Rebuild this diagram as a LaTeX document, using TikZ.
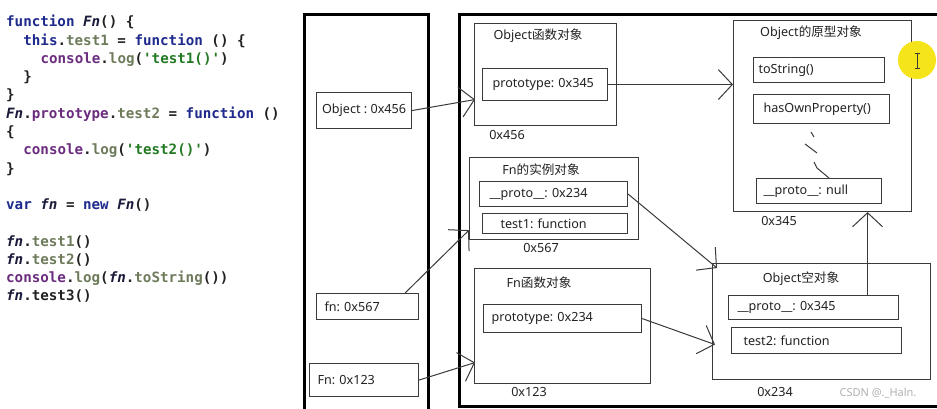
\documentclass[tikz,border=0pt]{standalone}
\usepackage{fontspec}
\setmainfont{Noto Sans}
\newfontfamily\cjk{Noto Sans CJK SC}
\newfontfamily\codefont{DejaVu Sans Mono}
\usetikzlibrary{arrows.meta}
\frenchspacing
\definecolor{kwc}{HTML}{1E2A8C}
\definecolor{fnc}{HTML}{1A1A3A}
\definecolor{prc}{HTML}{6E7B5B}
\definecolor{puc}{HTML}{6B2C7E}
\definecolor{stc}{HTML}{237A23}
\definecolor{pnc}{HTML}{222222}
\definecolor{lc}{HTML}{3A3A3A}
\definecolor{wmc}{HTML}{B0B0B0}
\definecolor{curc}{HTML}{F5E41A}
\newcommand\cKw[1]{\textcolor{kwc}{#1}}
\newcommand\cFn[1]{\textcolor{fnc}{\itshape #1}}
\newcommand\cPr[1]{\textcolor{prc}{#1}}
\newcommand\cPu[1]{\textcolor{puc}{#1}}
\newcommand\cSt[1]{\textcolor{stc}{#1}}
\newcommand\q{\textquotesingle}
\newcommand\dfont{\frenchspacing\fontsize{12.6}{14}\selectfont}
\tikzset{
  code/.style={anchor=base west, inner sep=0pt, text=pnc, font=\codefont\bfseries\fontsize{14.2}{17}\selectfont},
  heavybox/.style={draw=black, line width=2.6pt, anchor=north west, inner sep=0pt},
  cont/.style={draw=lc, line width=1.1pt, anchor=north west, inner sep=0pt},
  fld/.style={draw=lc, line width=1.1pt, anchor=north west, inner ysep=0pt, align=left, font=\dfont, text=pnc},
  ttl/.style={font=\dfont, inner sep=0pt, text=pnc},
  arr/.style={draw=lc, line width=1pt, -{Straight Barb[length=14pt,width=30pt]}},
  squig/.style={draw=lc, line width=1pt},
}
\begin{document}
\begin{tikzpicture}[x=1pt,y=-1pt]
\useasboundingbox (0,0) rectangle (937,409);
\clip (0,0) rectangle (937,409);
\fill[white] (0,0) rectangle (937,409);

% ---------- code ----------
\node[code] (c1)  at (6,27)      {\cKw{function} \cFn{Fn}() \{};
\node[code] (c2)  at (23.2,45.25) {\cKw{this}.\cPr{test1} = \cKw{function} () \{};
\node[code] (c3)  at (40.4,63.5)  {\cPu{console}.\cPr{log}(\cSt{\q test1()\q})};
\node[code] (c4)  at (23.2,81.75) {\}};
\node[code] (c5)  at (6,100)     {\}};
\node[code] (c6)  at (6,118.25)  {\cFn{Fn}.\cPu{prototype}.\cPr{test2} = \cKw{function} ()};
\node[code] (c7)  at (6,136.5)   {\{};
\node[code] (c8)  at (23.2,154.75) {\cPu{console}.\cPr{log}(\cSt{\q test2()\q})};
\node[code] (c9)  at (6,173)     {\}};
\node[code] (c11) at (6,209.5)   {\cKw{var} \cFn{fn} = \cKw{new} \cFn{Fn}()};
\node[code] (c13) at (6,246)     {\cFn{fn}.\cPr{test1}()};
\node[code] (c14) at (6,264.25)  {\cFn{fn}.\cPr{test2}()};
\node[code] (c15) at (6,282.5)   {\cPu{console}.\cPr{log}(\cFn{fn}.\cPr{toString}())};
\node[code] (c16) at (6,300.75)  {\cFn{fn}.test3()};

% ---------- stack & heap ----------
\node[heavybox, minimum width=124pt, minimum height=410pt] (stack) at (303,13) {};
\node[heavybox, minimum width=500pt, minimum height=392pt] (heap) at (458,13) {};

% stack entries
\node[cont, minimum width=95pt, minimum height=36pt, font=\dfont, text=pnc] (objAddr) at (316,92) {Object : 0x456};
\node[fld, minimum width=102pt, minimum height=26pt, inner xsep=8pt, text width=86pt] (fnAddr) at (316,293) {fn: 0x567};
\node[fld, minimum width=109pt, minimum height=33pt, inner xsep=8pt, text width=93pt] (FnAddr) at (309,363) {Fn: 0x123};

% Object function object
\node[cont, minimum width=142pt, minimum height=102pt] (ObjFn) at (474,23) {};
\node[ttl] (ObjFnT) at (538,36) {Object{\cjk 函数对象}};
\node[fld, minimum width=125pt, minimum height=32pt, inner xsep=10pt, text width=105pt] (protoA) at (482,68) {prototype: 0x345};
\node[ttl] (ObjFnL) at (507,135) {0x456};

% Fn instance object
\node[cont, minimum width=169pt, minimum height=82pt] (Inst) at (469,157) {};
\node[ttl] (InstT) at (541,170) {Fn{\cjk 的实例对象}};
\node[fld, minimum width=148pt, minimum height=25pt, inner xsep=10pt, text width=128pt] (protoB) at (479,181) {\_\_proto\_\_: 0x234};
\node[fld, minimum width=145pt, minimum height=20pt, inner xsep=18pt, text width=109pt] (test1B) at (482,213) {test1: function};
\node[ttl] (InstL) at (541,248) {0x567};

% Fn function object
\node[cont, minimum width=176pt, minimum height=115pt] (FnFn) at (474,268) {};
\node[ttl] (FnFnT) at (539,283) {Fn{\cjk 函数对象}};
\node[fld, minimum width=158pt, minimum height=28pt, inner xsep=8pt, text width=142pt] (protoC) at (483,304) {prototype: 0x234};
\node[ttl] (FnFnL) at (529,392) {0x123};

% Object prototype object
\node[cont, minimum width=178pt, minimum height=191pt] (ObjProto) at (733,20) {};
\node[ttl] (ObjProtoT) at (811,33) {Object{\cjk 的原型对象}};
\node[fld, minimum width=131pt, minimum height=25pt, inner xsep=5pt, text width=121pt] (toStr) at (753,57) {toString()};
\node[fld, minimum width=136pt, minimum height=29pt, inner xsep=10pt, text width=116pt] (hasOwn) at (753,94) {hasOwnProperty()};
\node[fld, minimum width=125pt, minimum height=25pt, inner xsep=7pt, text width=111pt] (nullB) at (756,178) {\_\_proto\_\_: null};
\node[ttl] (ObjProtoL) at (779,221) {0x345};

% Object empty object
\node[cont, minimum width=218pt, minimum height=116pt] (ObjEmpty) at (712,263) {};
\node[ttl] (ObjEmptyT) at (801,279) {Object{\cjk 空对象}};
\node[fld, minimum width=170pt, minimum height=24pt, inner xsep=9pt, text width=152pt] (protoE) at (728,295) {\_\_proto\_\_: 0x345};
\node[fld, minimum width=170pt, minimum height=26pt, inner xsep=12pt, text width=146pt] (test2E) at (731,327) {test2: function};
\node[ttl] (ObjEmptyL) at (775,392) {0x234};

% watermark
\node[font=\fontsize{11}{12}\selectfont, text=wmc, inner sep=0pt] (wm) at (878,393) {CSDN @.\_Haln.};

% ---------- connectors ----------
\draw[arr] (objAddr.east) -- ([xshift=1pt,yshift=-25pt]ObjFn.west);
\draw[arr] (protoA.east) -- (protoA.east -| ObjProto.west);
\draw[arr] ([xshift=-14pt]fnAddr.north east) -- ([yshift=10pt]Inst.south west);
\draw[arr] (FnAddr.east) -- ([xshift=1pt,yshift=-36.5pt]FnFn.west);
\draw[arr] (protoB.east) -- ([shift={(5pt,-5pt)}]ObjEmpty.north west);
\draw[arr] (protoC.east) -- ([xshift=3pt,yshift=-23pt]ObjEmpty.west);
\coordinate (pTip) at ([xshift=45pt]ObjProto.south);
\draw[arr] (protoE.north -| pTip) -- (pTip);

% hand-drawn dashes between hasOwnProperty and __proto__: null
\draw[squig] (811,132) -- (814,137);
\draw[squig] (805,144) -- (817,153);
\draw[squig] (814,162) -- (817,168) -- (829,178);

% cursor highlight
\fill[curc] (917,60) circle (19pt);
\draw[lc, line width=0.8pt] (917,53) -- (917,68) (914.5,53) -- (919.5,53) (914.5,68) -- (919.5,68);
\end{tikzpicture}
\end{document}
